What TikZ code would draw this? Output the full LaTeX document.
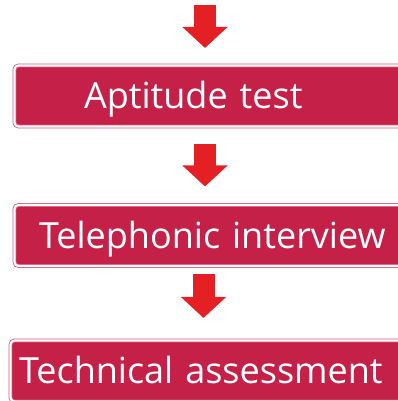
\documentclass[tikz,border=0pt]{standalone}
\usepackage{fontspec}
\setmainfont{Open Sans}
\usetikzlibrary{calc}
\usetikzlibrary{arrows.meta}

\definecolor{stagefill}{RGB}{197,32,72}
\definecolor{stagerim}{RGB}{216,86,116}
\definecolor{flowred}{RGB}{228,32,37}

\tikzset{
  stagebox/.style={draw=stagerim, line width=0.8pt, double=white, double distance=2.2pt,
    fill=stagefill, rounded corners=4pt, text=white, anchor=west, outer sep=0pt,
    font=\fontsize{36}{40}\selectfont, text width=390pt, align=left,
    minimum height=61pt, text height=25.5pt, text depth=0pt},
  flow/.style={flowred, line width=22pt, -{Triangle[width=44pt,length=21pt]}}
}

\begin{document}
\begin{tikzpicture}[x=1pt,y=1pt]
  % Canvas
  \useasboundingbox (0,0) rectangle (398,401);
  \clip (0,0) rectangle (398,401);

  % Arrow axes
  \coordinate (top) at (205,396);
  \coordinate (axis) at (203.5,0);

  % Stages
  \node[stagebox, inner xsep=69.5pt] (aptitude) at (14.5,305) {Aptitude test};
  \node[stagebox, inner xsep=24.5pt] (phone) at (14.5,165.5) {Telephonic interview};
  \node[stagebox, inner xsep=8.5pt] (tech) at (10.5,30) {Technical assessment};

  % Arrows between stages
  \draw[flow, shorten >=17.5pt] (top) -- (aptitude.north -| top);
  \draw[flow, shorten <=17.5pt, shorten >=18.5pt] (aptitude.south -| top) -- (phone.north -| top);
  \draw[flow, shorten <=8.5pt, shorten >=22.5pt] (phone.south -| axis) -- (tech.north -| axis);
\end{tikzpicture}
\end{document}
